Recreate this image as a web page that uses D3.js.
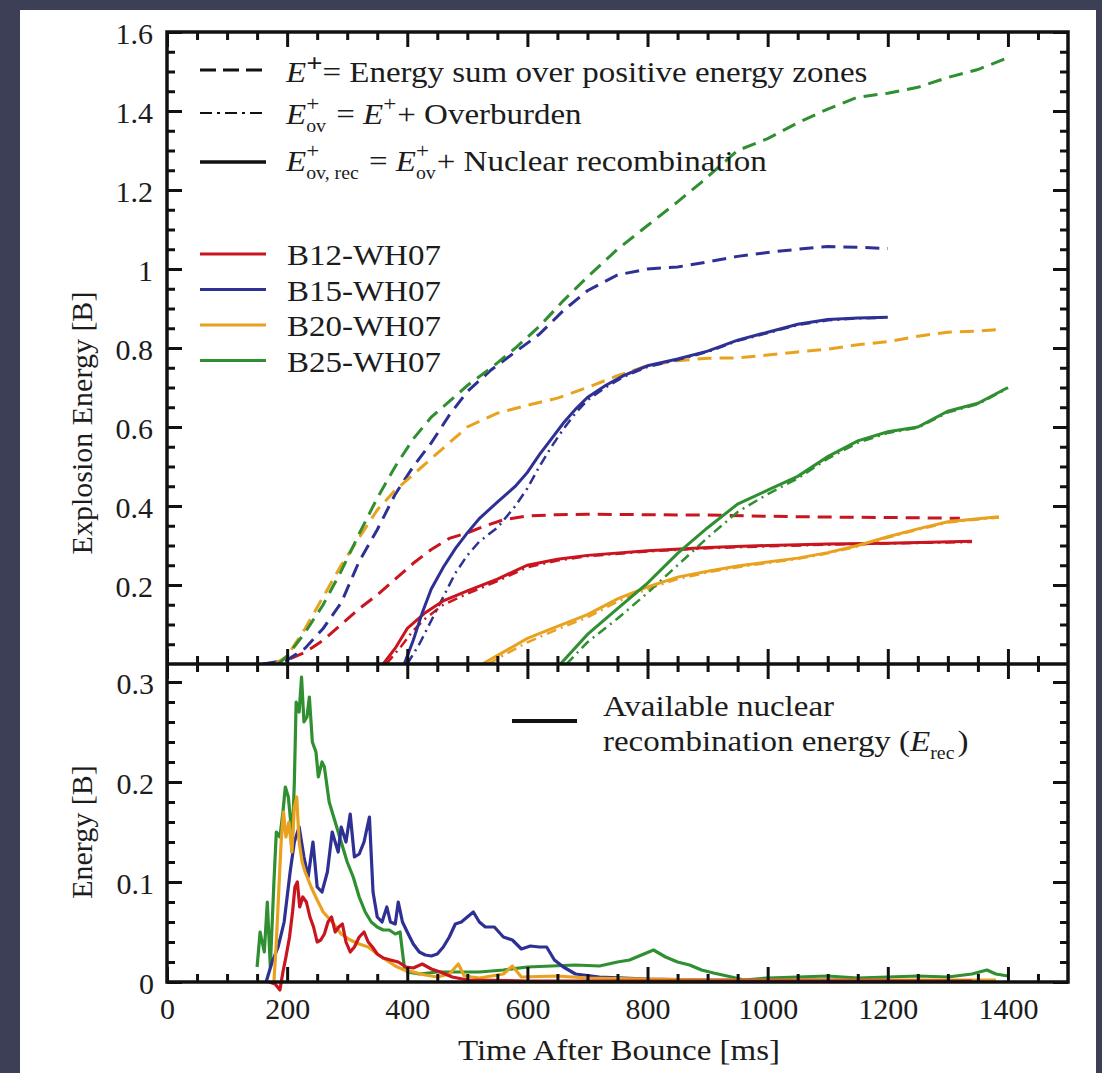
<!DOCTYPE html>
<html>
<head>
<meta charset="utf-8">
<script src="https://cdn.jsdelivr.net/npm/d3@7"></script>
<style>
  body { margin: 0; background: #3d3f57; }
  svg { display: block; }
  text { font-family: "Liberation Serif", "Times New Roman", serif; fill: #1c1c1c; white-space: pre; }
</style>
</head>
<body>
<svg id="chart" width="1102" height="1073"></svg>
<script>
// ---------- data: time after bounce [ms], energy [B] ----------
const models = ["B12-WH07", "B15-WH07", "B20-WH07", "B25-WH07"];

// E+ : energy summed over positive-energy zones (dashed)
const b12Eplus = [[170,0],[200,0.01],[230,0.03],[260,0.06],[290,0.10],[320,0.14],[350,0.175],[380,0.215],[410,0.255],[440,0.29],[470,0.318],[500,0.332],[530,0.35],[560,0.365],[600,0.375],[650,0.378],[700,0.379],[800,0.378],[900,0.377],[1000,0.374],[1100,0.372],[1200,0.371],[1320,0.369]];
const b15Eplus = [[160,0],[200,0.01],[230,0.04],[260,0.09],[290,0.155],[320,0.26],[350,0.34],[380,0.43],[410,0.50],[440,0.56],[470,0.63],[500,0.69],[540,0.745],[580,0.79],[620,0.835],[660,0.895],[700,0.945],[750,0.985],[800,1.0],[850,1.005],[900,1.018],[950,1.032],[1000,1.042],[1050,1.05],[1100,1.057],[1150,1.055],[1200,1.052]];
const b20Eplus = [[180,0],[200,0.02],[230,0.09],[260,0.17],[290,0.25],[320,0.32],[350,0.39],[380,0.44],[410,0.48],[440,0.52],[470,0.56],[500,0.60],[550,0.635],[600,0.655],[650,0.673],[700,0.70],[750,0.73],[800,0.755],[850,0.768],[900,0.774],[950,0.775],[1000,0.782],[1050,0.79],[1100,0.797],[1150,0.808],[1200,0.816],[1250,0.83],[1300,0.84],[1350,0.843],[1390,0.847]];
const b25Eplus = [[185,0],[200,0.02],[230,0.08],[260,0.15],[290,0.235],[320,0.33],[350,0.42],[380,0.50],[410,0.57],[440,0.625],[470,0.665],[500,0.705],[540,0.75],[580,0.80],[620,0.855],[660,0.92],[700,0.98],[750,1.05],[800,1.11],[850,1.17],[890,1.22],[950,1.30],[1000,1.33],[1050,1.37],[1100,1.405],[1150,1.435],[1200,1.445],[1250,1.46],[1300,1.485],[1350,1.505],[1400,1.535]];

// E+_ov : E+ plus overburden (dash-dot)
const b12Eov = [[365,0],[390,0.045],[410,0.085],[430,0.115],[460,0.15],[500,0.178],[550,0.21],[600,0.245],[650,0.262],[700,0.273],[800,0.285],[900,0.293],[1000,0.298],[1100,0.302],[1200,0.305],[1340,0.309]];
const b15Eov = [[400,0],[420,0.05],[440,0.11],[460,0.17],[480,0.23],[500,0.275],[520,0.31],[550,0.345],[580,0.40],[600,0.445],[620,0.50],[640,0.55],[660,0.595],[680,0.635],[700,0.668],[730,0.70],[760,0.727],[800,0.752],[850,0.77],[900,0.79],[950,0.818],[1000,0.838],[1050,0.858],[1100,0.87],[1150,0.875],[1200,0.877]];
const b20Eov = [[535,0],[560,0.022],[600,0.055],[650,0.088],[700,0.118],[750,0.158],[800,0.19],[850,0.215],[900,0.232],[950,0.245],[1000,0.256],[1050,0.266],[1100,0.28],[1150,0.298],[1200,0.32],[1250,0.34],[1300,0.358],[1350,0.366],[1385,0.371]];
const b25Eov = [[665,0],[700,0.055],[750,0.115],[800,0.18],[850,0.25],[900,0.32],[950,0.385],[1000,0.43],[1050,0.47],[1100,0.52],[1150,0.56],[1200,0.585],[1250,0.598],[1300,0.637],[1350,0.658],[1400,0.698]];

// E+_ov,rec : E+_ov plus nuclear recombination (solid)
const b12Erec = [[360,0],[380,0.04],[400,0.09],[430,0.13],[460,0.16],[500,0.185],[550,0.215],[600,0.25],[650,0.265],[700,0.275],[800,0.287],[900,0.295],[1000,0.30],[1100,0.304],[1200,0.306],[1340,0.311]];
const b15Erec = [[395,0],[410,0.06],[425,0.13],[440,0.19],[460,0.245],[480,0.292],[500,0.332],[520,0.368],[550,0.41],[580,0.45],[600,0.485],[620,0.53],[640,0.57],[660,0.61],[680,0.645],[700,0.675],[730,0.705],[760,0.73],[800,0.755],[850,0.772],[900,0.792],[950,0.82],[1000,0.84],[1050,0.86],[1100,0.872],[1150,0.876],[1200,0.878]];
const b20Erec = [[525,0],[560,0.03],[600,0.065],[650,0.095],[700,0.125],[750,0.165],[800,0.195],[850,0.22],[900,0.235],[950,0.248],[1000,0.258],[1050,0.268],[1100,0.282],[1150,0.30],[1200,0.322],[1250,0.342],[1300,0.36],[1350,0.368],[1385,0.373]];
const b25Erec = [[655,0],[700,0.075],[750,0.14],[800,0.205],[850,0.28],[900,0.345],[950,0.405],[1000,0.44],[1050,0.475],[1100,0.525],[1150,0.565],[1200,0.588],[1250,0.60],[1300,0.64],[1350,0.66],[1400,0.70]];

// available nuclear recombination energy E_rec (lower panel)
const b12Avail = [[170,0],[180,-0.002],[188,-0.008],[193,0.01],[198,0.025],[204,0.045],[209,0.07],[213,0.095],[217,0.1],[221,0.075],[226,0.085],[232,0.08],[238,0.065],[244,0.055],[250,0.04],[256,0.042],[262,0.048],[268,0.06],[274,0.065],[280,0.05],[286,0.055],[292,0.058],[298,0.04],[305,0.03],[312,0.035],[320,0.045],[328,0.05],[335,0.04],[342,0.035],[350,0.028],[360,0.024],[372,0.022],[385,0.02],[398,0.015],[410,0.014],[425,0.018],[440,0.013],[455,0.01],[475,0.005],[500,0.002],[600,0.001],[800,0.001],[1000,0.001],[1200,0.001],[1340,0.001]];
const b15Avail = [[165,0],[175,0.02],[185,0.035],[195,0.06],[205,0.11],[212,0.14],[220,0.155],[228,0.125],[235,0.105],[243,0.14],[250,0.095],[258,0.09],[267,0.11],[275,0.15],[285,0.13],[290,0.155],[298,0.14],[305,0.168],[312,0.125],[320,0.128],[328,0.14],[337,0.165],[343,0.09],[350,0.065],[358,0.06],[366,0.075],[372,0.06],[380,0.058],[385,0.08],[392,0.06],[400,0.05],[410,0.038],[420,0.03],[430,0.027],[440,0.026],[450,0.028],[460,0.035],[470,0.045],[480,0.058],[490,0.06],[500,0.065],[510,0.07],[520,0.06],[530,0.055],[545,0.055],[560,0.045],[575,0.042],[590,0.033],[605,0.036],[620,0.035],[632,0.035],[645,0.022],[660,0.015],[680,0.008],[720,0.005],[800,0.003],[900,0.002],[1000,0.002],[1100,0.002],[1200,0.002]];
const b20Avail = [[178,0],[182,0.04],[186,0.09],[190,0.14],[194,0.17],[198,0.145],[203,0.16],[208,0.13],[212,0.175],[216,0.185],[220,0.14],[225,0.12],[230,0.11],[240,0.095],[250,0.082],[260,0.07],[275,0.06],[290,0.048],[305,0.042],[320,0.038],[335,0.035],[350,0.028],[365,0.022],[380,0.016],[395,0.012],[410,0.01],[430,0.007],[450,0.005],[470,0.008],[485,0.018],[495,0.006],[520,0.004],[560,0.008],[575,0.016],[590,0.005],[650,0.006],[700,0.004],[800,0.003],[900,0.002],[1000,0.002],[1100,0.002],[1200,0.002],[1300,0.002],[1380,0.002]];
const b25Avail = [[150,0.015],[155,0.05],[162,0.03],[167,0.08],[172,0.015],[178,0.1],[182,0.15],[188,0.145],[193,0.17],[197,0.195],[202,0.185],[206,0.16],[208,0.13],[212,0.2],[215,0.28],[220,0.27],[224,0.305],[228,0.26],[233,0.265],[237,0.285],[242,0.24],[248,0.23],[252,0.205],[258,0.22],[262,0.215],[270,0.18],[280,0.16],[290,0.14],[300,0.12],[310,0.105],[320,0.085],[330,0.07],[340,0.06],[350,0.055],[360,0.052],[370,0.052],[380,0.048],[388,0.05],[395,0.015],[400,0.01],[420,0.008],[450,0.01],[480,0.01],[520,0.01],[560,0.012],[600,0.015],[640,0.016],[680,0.017],[720,0.016],[750,0.02],[770,0.022],[790,0.027],[810,0.032],[830,0.025],[850,0.02],[870,0.017],[890,0.012],[910,0.009],[940,0.005],[960,0.002],[1000,0.004],[1050,0.005],[1100,0.006],[1150,0.004],[1200,0.005],[1250,0.006],[1300,0.005],[1340,0.008],[1365,0.012],[1380,0.008],[1400,0.006]];

// tick values and labels
const xTickLabels = [0, 200, 400, 600, 800, 1000, 1200, 1400];
const yTopTickLabels = [0.2, 0.4, 0.6, 0.8, 1, 1.2, 1.4, 1.6];
const yBottomTickLabels = [0, 0.1, 0.2, 0.3];

// ---------- styling ----------
const modelColors = ["#c9151f", "#2f3094", "#e9a21f", "#2f8f31"];
const FONT = 30;
const SX = 1.1;   // horizontal widening of word labels

const svg = d3.select("#chart");
svg.append("rect").attr("width", 1102).attr("height", 1073).attr("fill", "#3d3f57");
svg.append("rect").attr("x", 20).attr("y", 10).attr("width", 1076).attr("height", 1063).attr("fill", "#ffffff");

const pLeft = 167, pRight = 1068, pTop = 32, pMid = 664, pBottom = 982;
const x = d3.scaleLinear().domain([0, 1500]).range([pLeft, pRight]);
const yTop = d3.scaleLinear().domain([0, 1.6]).range([pMid, pTop]);
const yBot = d3.scaleLinear().domain([0, 0.318]).range([pBottom, pMid]);

const plot = svg.append("g");
svg.append("clipPath").attr("id", "clipTop").append("rect")
  .attr("x", pLeft).attr("y", pTop).attr("width", pRight - pLeft).attr("height", pMid - pTop);

// ---------- upper panel curves ----------
const lineTop = d3.line().x(d => x(d[0])).y(d => yTop(d[1]));
const lineBot = d3.line().x(d => x(d[0])).y(d => yBot(d[1]));

const eplus = [b12Eplus, b15Eplus, b20Eplus, b25Eplus];
const eov = [b12Eov, b15Eov, b20Eov, b25Eov];
const erec = [b12Erec, b15Erec, b20Erec, b25Erec];
const avail = [b12Avail, b15Avail, b20Avail, b25Avail];

const upper = plot.append("g").attr("clip-path", "url(#clipTop)");
eplus.forEach((s, i) => upper.append("path").attr("d", lineTop(s)).attr("fill", "none")
  .attr("stroke", modelColors[i]).attr("stroke-width", 3).attr("stroke-dasharray", "14,8"));
eov.forEach((s, i) => upper.append("path").attr("d", lineTop(s)).attr("fill", "none")
  .attr("stroke", modelColors[i]).attr("stroke-width", 2.5).attr("stroke-dasharray", "10,5,2,5"));
erec.forEach((s, i) => upper.append("path").attr("d", lineTop(s)).attr("fill", "none")
  .attr("stroke", modelColors[i]).attr("stroke-width", 3));

// ---------- lower panel curves ----------
const lower = plot.append("g");
[3, 1, 2, 0].forEach(i => lower.append("path").attr("d", lineBot(avail[i])).attr("fill", "none")
  .attr("stroke", modelColors[i]).attr("stroke-width", 3.2).attr("stroke-linejoin", "round"));

// ---------- axes ----------
const xMinor = d3.range(1, 30).map(k => k * 50).filter(v => v % 200 !== 0);
const yTopMinor = d3.range(1, 32).filter(k => k % 4 !== 0).map(k => k * 0.05);
const yBotMinor = d3.range(1, 16).filter(k => k % 5 !== 0).map(k => k * 0.02);

function styleAxis(g) {
  g.select(".domain").remove();
  g.selectAll(".tick line").attr("stroke", "#111").attr("stroke-width", 3);
  g.selectAll(".tick text").style("font-size", FONT + "px").attr("fill", "#222");
}
function addAxis(axis, tx, ty) {
  svg.append("g").attr("transform", `translate(${tx},${ty})`).call(axis).call(styleAxis);
}
const noLabel = () => "";
const fmt = d => (d === 0 || d === 1) ? String(d) : d.toFixed(1);

// horizontal axes: ticks point inward on every edge
addAxis(d3.axisTop(x).tickValues(xTickLabels).tickSize(-15).tickFormat(noLabel), 0, pTop);
addAxis(d3.axisTop(x).tickValues(xMinor).tickSize(-8).tickFormat(noLabel), 0, pTop);
addAxis(d3.axisBottom(x).tickValues(xTickLabels).tickSize(-15).tickFormat(noLabel), 0, pMid);
addAxis(d3.axisBottom(x).tickValues(xMinor).tickSize(-8).tickFormat(noLabel), 0, pMid);
addAxis(d3.axisTop(x).tickValues(xTickLabels).tickSize(-15).tickFormat(noLabel), 0, pMid);
addAxis(d3.axisTop(x).tickValues(xMinor).tickSize(-8).tickFormat(noLabel), 0, pMid);
addAxis(d3.axisBottom(x).tickValues(xTickLabels).tickSize(-15).tickPadding(16).tickFormat(d => String(d)), 0, pBottom);
addAxis(d3.axisBottom(x).tickValues(xMinor).tickSize(-8).tickFormat(noLabel), 0, pBottom);

// vertical axes, upper panel
addAxis(d3.axisLeft(yTop).tickValues(yTopTickLabels).tickSize(-15).tickPadding(14).tickFormat(fmt), pLeft, 0);
addAxis(d3.axisLeft(yTop).tickValues(yTopMinor).tickSize(-8).tickFormat(noLabel), pLeft, 0);
addAxis(d3.axisRight(yTop).tickValues(yTopTickLabels).tickSize(-15).tickFormat(noLabel), pRight, 0);
addAxis(d3.axisRight(yTop).tickValues(yTopMinor).tickSize(-8).tickFormat(noLabel), pRight, 0);
// vertical axes, lower panel
addAxis(d3.axisLeft(yBot).tickValues(yBottomTickLabels).tickSize(-15).tickPadding(13).tickFormat(fmt), pLeft, 0);
addAxis(d3.axisLeft(yBot).tickValues(yBotMinor).tickSize(-8).tickFormat(noLabel), pLeft, 0);
addAxis(d3.axisRight(yBot).tickValues(yBottomTickLabels).tickSize(-15).tickFormat(noLabel), pRight, 0);
addAxis(d3.axisRight(yBot).tickValues(yBotMinor).tickSize(-8).tickFormat(noLabel), pRight, 0);

svg.selectAll(".tick text").attr("dy", function () {
  return d3.select(this).attr("dy") === "0.32em" ? "0.38em" : d3.select(this).attr("dy");
});

// frame
svg.append("rect").attr("x", pLeft).attr("y", pTop).attr("width", pRight - pLeft).attr("height", pBottom - pTop)
  .attr("fill", "none").attr("stroke", "#111").attr("stroke-width", 3.5);
svg.append("line").attr("x1", pLeft).attr("x2", pRight).attr("y1", pMid).attr("y2", pMid)
  .attr("stroke", "#111").attr("stroke-width", 3.5);

// axis titles
svg.append("text").attr("transform", "translate(92,423) rotate(-90)").attr("text-anchor", "middle")
  .style("font-size", FONT + "px").text("Explosion Energy [B]");
svg.append("text").attr("transform", "translate(92,832) rotate(-90)").attr("text-anchor", "middle")
  .style("font-size", FONT + "px").text("Energy [B]");
svg.append("text").attr("transform", `translate(619,1060) scale(${SX},1)`).attr("text-anchor", "middle")
  .style("font-size", FONT + "px").text("Time After Bounce [ms]");

// ---------- legends ----------
// lays out a run of text pieces; stacked pieces carry a superscript and/or subscript
function piece(g, cx, cy, size, str) {
  const t = g.append("text").attr("transform", `translate(${cx},${cy}) scale(${SX},1)`)
    .style("font-size", size + "px").text(str);
  return t;
}
function richLine(g, x0, y0, parts) {
  let cx = x0;
  parts.forEach(p => {
    if (p.sup !== undefined || p.sub !== undefined) {
      let w = 0;
      if (p.sup !== undefined) {
        const t = piece(g, cx, y0 - (p.supRaise || 13), p.supSize || 21, p.sup)
          .style("font-weight", p.bold ? "bold" : null);
        w = Math.max(w, t.node().getComputedTextLength() * SX);
      }
      if (p.sub !== undefined) {
        const t = piece(g, cx, y0 + 8, 18, p.sub);
        w = Math.max(w, t.node().getComputedTextLength() * SX);
      }
      cx += w + (p.gap || 0);
    } else {
      const t = piece(g, cx, y0, FONT, p.text).style("font-style", p.italic ? "italic" : null);
      cx += t.node().getComputedTextLength() * SX;
    }
  });
}

const legend = svg.append("g");
const keyX1 = 200, keyX2 = 266, textX = 286;
legend.append("line").attr("x1", keyX1).attr("x2", keyX2).attr("y1", 70).attr("y2", 70)
  .attr("stroke", "#111").attr("stroke-width", 3).attr("stroke-dasharray", "16,7");
legend.append("line").attr("x1", keyX1).attr("x2", keyX2).attr("y1", 113).attr("y2", 113)
  .attr("stroke", "#111").attr("stroke-width", 2).attr("stroke-dasharray", "12,5,3,5");
legend.append("line").attr("x1", keyX1).attr("x2", keyX2).attr("y1", 162).attr("y2", 162)
  .attr("stroke", "#111").attr("stroke-width", 3.5);

richLine(legend, textX, 82, [
  { text: "E", italic: true }, { sup: "+", supSize: 26, supRaise: 10, bold: true },
  { text: "= Energy sum over positive energy zones" }
]);
richLine(legend, textX, 124, [
  { text: "E", italic: true }, { sup: "+", sub: "ov", gap: 2 },
  { text: " = " }, { text: "E", italic: true }, { sup: "+", gap: 1 }, { text: "+ Overburden" }
]);
richLine(legend, textX, 171, [
  { text: "E", italic: true }, { sup: "+", sub: "ov, rec", gap: 2 },
  { text: " = " }, { text: "E", italic: true }, { sup: "+", sub: "ov", gap: 1 }, { text: "+ Nuclear recombination" }
]);

models.forEach((m, i) => {
  const yy = 254 + i * 35.5;
  legend.append("line").attr("x1", keyX1).attr("x2", keyX2).attr("y1", yy).attr("y2", yy)
    .attr("stroke", modelColors[i]).attr("stroke-width", 3);
  piece(legend, 287, yy + 11, FONT, m);
});

legend.append("line").attr("x1", 512).attr("x2", 577).attr("y1", 721).attr("y2", 721)
  .attr("stroke", "#111").attr("stroke-width", 4);
richLine(legend, 603, 716, [{ text: "Available nuclear" }]);
richLine(legend, 603, 751, [
  { text: "recombination energy (" }, { text: "E", italic: true }, { sub: "rec", gap: 3 }, { text: ")" }
]);
</script>
</body>
</html>
